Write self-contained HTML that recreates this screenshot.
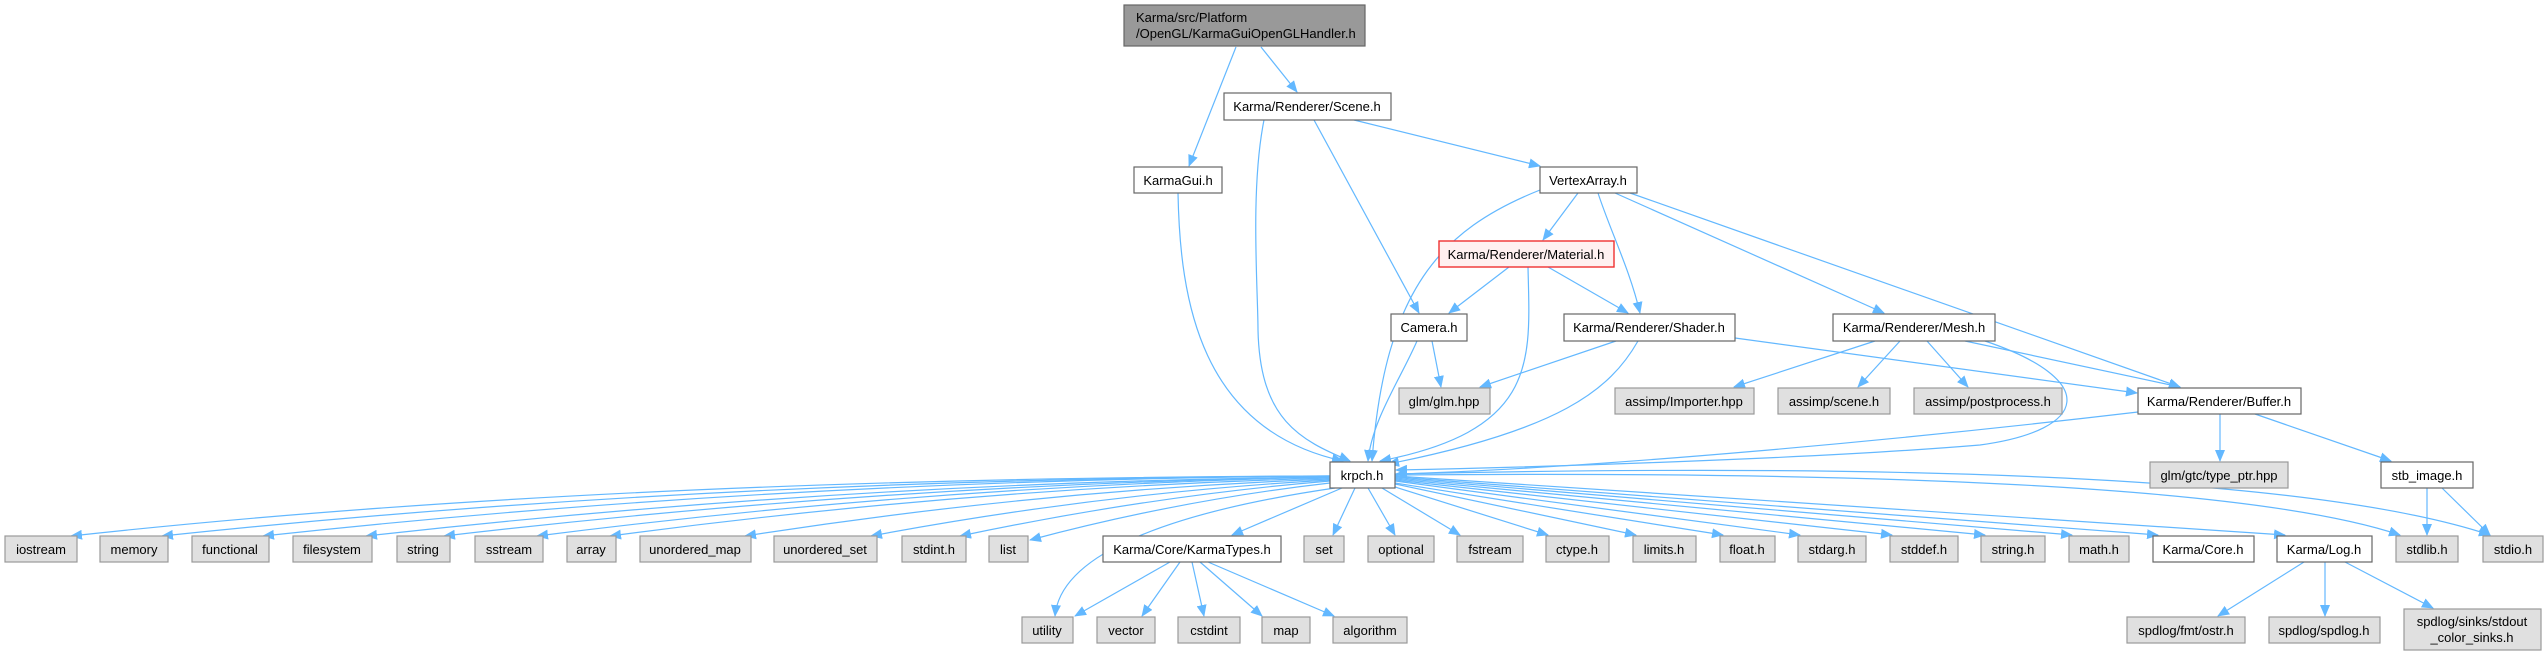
<!DOCTYPE html>
<html><head><meta charset="utf-8"><style>
html,body{margin:0;padding:0;background:#fff;}
svg{display:block;}
text{font-family:"Liberation Sans",Arial,sans-serif;font-size:13px;fill:#000;}
.w{fill:#fff;stroke:#666;stroke-width:1.2;}
.g{fill:#e0e0e0;stroke:#999;stroke-width:1.2;}
.e{fill:none;stroke:#63b8ff;stroke-width:1.2;marker-end:url(#a);}
</style></head><body>
<svg width="2548" height="656" viewBox="0 0 2548 656" xmlns="http://www.w3.org/2000/svg">
<defs><marker id="a" markerUnits="userSpaceOnUse" markerWidth="12" markerHeight="10" refX="11" refY="5" orient="auto"><path d="M0,0 L12,5 L0,10 z" fill="#63b8ff"/></marker></defs>

<!-- edges -->
<path class="e" d="M1236,47 L1189,166"/>
<path class="e" d="M1261,47 L1297,92"/>
<path class="e" d="M1178,193 C1180,300 1200,430 1343,461"/>
<path class="e" d="M1264,120 C1250,190 1258,290 1258,330 C1260,420 1300,440 1350,461"/>
<path class="e" d="M1314,120 L1419,313"/>
<path class="e" d="M1354,120 L1540,166"/>
<path class="e" d="M1540,190 C1440,230 1385,290 1372,461"/>
<path class="e" d="M1578,193 L1543,240"/>
<path class="e" d="M1598,193 C1610,230 1630,270 1640,313"/>
<path class="e" d="M1615,193 L1884,313"/>
<path class="e" d="M1630,193 L2180,387"/>
<path class="e" d="M1509,267 L1449,313"/>
<path class="e" d="M1528,267 C1530,360 1540,430 1380,461"/>
<path class="e" d="M1548,267 L1628,313"/>
<path class="e" d="M1432,341 L1441,387"/>
<path class="e" d="M1417,341 C1400,380 1372,420 1368,461"/>
<path class="e" d="M1616,341 L1480,387"/>
<path class="e" d="M1638,341 C1610,390 1560,430 1388,464"/>
<path class="e" d="M1735,338 L2137,393"/>
<path class="e" d="M1875,341 L1734,387"/>
<path class="e" d="M1900,341 L1858,387"/>
<path class="e" d="M1927,341 L1968,387"/>
<path class="e" d="M1965,341 L2180,387"/>
<path class="e" d="M1985,341 C2100,380 2090,430 1980,445 C1800,460 1500,468 1396,470"/>
<path class="e" d="M2138,412 C1900,440 1600,468 1396,474"/>
<path class="e" d="M2220,414 L2220,461"/>
<path class="e" d="M2255,414 L2391,461"/>
<path class="e" d="M2427,488 L2427,535"/>
<path class="e" d="M2442,488 L2490,535"/>

<!-- krpch -> leaves -->
<path class="e" d="M1330,476 Q600,478 71,536"/>
<path class="e" d="M1330,476 Q700,479 162,536"/>
<path class="e" d="M1330,476 Q780,480 263,536"/>
<path class="e" d="M1330,477 Q850,482 366,536"/>
<path class="e" d="M1330,477 Q890,484 444,536"/>
<path class="e" d="M1330,477 Q930,486 537,536"/>
<path class="e" d="M1330,478 Q970,488 610,536"/>
<path class="e" d="M1330,479 Q1040,490 745,536"/>
<path class="e" d="M1330,480 Q1100,493 871,536"/>
<path class="e" d="M1330,481 Q1150,496 960,536"/>
<path class="e" d="M1330,483 Q1180,500 1030,540"/>
<path class="e" d="M1342,488 L1232,535"/>
<path class="e" d="M1335,488 C1150,515 1060,560 1055,616"/>
<path class="e" d="M1355,488 L1333,535"/>
<path class="e" d="M1368,488 L1395,535"/>
<path class="e" d="M1382,488 L1460,535"/>
<path class="e" d="M1392,486 L1548,535"/>
<path class="e" d="M1395,484 L1636,535"/>
<path class="e" d="M1395,483 L1723,535"/>
<path class="e" d="M1395,481 L1800,535"/>
<path class="e" d="M1395,480 L1892,535"/>
<path class="e" d="M1395,479 L1985,535"/>
<path class="e" d="M1395,478 L2072,535"/>
<path class="e" d="M1395,477 L2158,535"/>
<path class="e" d="M1395,476 L2285,535"/>
<path class="e" d="M1395,475 Q2200,468 2400,535"/>
<path class="e" d="M1395,474 Q2250,455 2490,535"/>

<!-- KarmaTypes -> -->
<path class="e" d="M1170,562 L1075,616"/>
<path class="e" d="M1180,562 L1142,616"/>
<path class="e" d="M1192,562 L1204,616"/>
<path class="e" d="M1200,562 L1262,616"/>
<path class="e" d="M1208,562 L1334,616"/>
<!-- Log -> -->
<path class="e" d="M2304,562 L2218,616"/>
<path class="e" d="M2325,562 L2325,616"/>
<path class="e" d="M2345,562 L2433,608"/>

<!-- nodes -->
<rect x="1124" y="5" width="241" height="41" fill="#999" stroke="#666" stroke-width="1.2"/>
<text x="1136" y="22">Karma/src/Platform</text>
<text x="1136" y="38">/OpenGL/KarmaGuiOpenGLHandler.h</text>

<g text-anchor="middle">
<rect class="w" x="1134" y="167" width="88" height="26"/><text x="1178" y="185">KarmaGui.h</text>
<rect class="w" x="1224" y="93" width="167" height="27"/><text x="1307" y="111">Karma/Renderer/Scene.h</text>
<rect class="w" x="1540" y="167" width="97" height="26"/><text x="1588" y="185">VertexArray.h</text>
<rect x="1439" y="241" width="175" height="26" fill="#fff0f0" stroke="#f03030" stroke-width="1.4"/><text x="1526" y="259">Karma/Renderer/Material.h</text>
<rect class="w" x="1391" y="314" width="76" height="27"/><text x="1429" y="332">Camera.h</text>
<rect class="w" x="1564" y="314" width="171" height="27"/><text x="1649" y="332">Karma/Renderer/Shader.h</text>
<rect class="w" x="1833" y="314" width="162" height="27"/><text x="1914" y="332">Karma/Renderer/Mesh.h</text>
<rect class="g" x="1399" y="388" width="91" height="26"/><text x="1444" y="406">glm/glm.hpp</text>
<rect class="g" x="1615" y="388" width="139" height="26"/><text x="1684" y="406">assimp/Importer.hpp</text>
<rect class="g" x="1778" y="388" width="112" height="26"/><text x="1834" y="406">assimp/scene.h</text>
<rect class="g" x="1914" y="388" width="148" height="26"/><text x="1988" y="406">assimp/postprocess.h</text>
<rect class="w" x="2138" y="388" width="163" height="26"/><text x="2219" y="406">Karma/Renderer/Buffer.h</text>
<rect class="w" x="1330" y="462" width="65" height="26"/><text x="1362" y="480">krpch.h</text>
<rect class="g" x="2150" y="462" width="138" height="26"/><text x="2219" y="480">glm/gtc/type_ptr.hpp</text>
<rect class="w" x="2381" y="462" width="92" height="26"/><text x="2427" y="480">stb_image.h</text>

<rect class="g" x="5" y="536" width="72" height="26"/><text x="41" y="554">iostream</text>
<rect class="g" x="100" y="536" width="68" height="26"/><text x="134" y="554">memory</text>
<rect class="g" x="192" y="536" width="77" height="26"/><text x="230" y="554">functional</text>
<rect class="g" x="293" y="536" width="79" height="26"/><text x="332" y="554">filesystem</text>
<rect class="g" x="397" y="536" width="53" height="26"/><text x="423" y="554">string</text>
<rect class="g" x="475" y="536" width="68" height="26"/><text x="509" y="554">sstream</text>
<rect class="g" x="567" y="536" width="49" height="26"/><text x="591" y="554">array</text>
<rect class="g" x="640" y="536" width="111" height="26"/><text x="695" y="554">unordered_map</text>
<rect class="g" x="774" y="536" width="103" height="26"/><text x="825" y="554">unordered_set</text>
<rect class="g" x="902" y="536" width="64" height="26"/><text x="934" y="554">stdint.h</text>
<rect class="g" x="989" y="536" width="39" height="26"/><text x="1008" y="554">list</text>
<rect class="w" x="1103" y="536" width="178" height="26"/><text x="1192" y="554">Karma/Core/KarmaTypes.h</text>
<rect class="g" x="1304" y="536" width="40" height="26"/><text x="1324" y="554">set</text>
<rect class="g" x="1368" y="536" width="66" height="26"/><text x="1401" y="554">optional</text>
<rect class="g" x="1457" y="536" width="66" height="26"/><text x="1490" y="554">fstream</text>
<rect class="g" x="1546" y="536" width="63" height="26"/><text x="1577" y="554">ctype.h</text>
<rect class="g" x="1633" y="536" width="63" height="26"/><text x="1664" y="554">limits.h</text>
<rect class="g" x="1720" y="536" width="55" height="26"/><text x="1747" y="554">float.h</text>
<rect class="g" x="1798" y="536" width="68" height="26"/><text x="1832" y="554">stdarg.h</text>
<rect class="g" x="1890" y="536" width="68" height="26"/><text x="1924" y="554">stddef.h</text>
<rect class="g" x="1981" y="536" width="64" height="26"/><text x="2013" y="554">string.h</text>
<rect class="g" x="2069" y="536" width="60" height="26"/><text x="2099" y="554">math.h</text>
<rect class="w" x="2153" y="536" width="101" height="26"/><text x="2203" y="554">Karma/Core.h</text>
<rect class="w" x="2277" y="536" width="95" height="26"/><text x="2324" y="554">Karma/Log.h</text>
<rect class="g" x="2396" y="536" width="62" height="26"/><text x="2427" y="554">stdlib.h</text>
<rect class="g" x="2483" y="536" width="60" height="26"/><text x="2513" y="554">stdio.h</text>

<rect class="g" x="1022" y="617" width="51" height="26"/><text x="1047" y="635">utility</text>
<rect class="g" x="1097" y="617" width="58" height="26"/><text x="1126" y="635">vector</text>
<rect class="g" x="1178" y="617" width="62" height="26"/><text x="1209" y="635">cstdint</text>
<rect class="g" x="1262" y="617" width="48" height="26"/><text x="1286" y="635">map</text>
<rect class="g" x="1333" y="617" width="74" height="26"/><text x="1370" y="635">algorithm</text>
<rect class="g" x="2127" y="617" width="118" height="26"/><text x="2186" y="635">spdlog/fmt/ostr.h</text>
<rect class="g" x="2269" y="617" width="111" height="26"/><text x="2324" y="635">spdlog/spdlog.h</text>
<rect class="g" x="2404" y="609" width="137" height="41"/><text x="2472" y="626">spdlog/sinks/stdout</text><text x="2472" y="642">_color_sinks.h</text>
</g>
</svg>
</body></html>
